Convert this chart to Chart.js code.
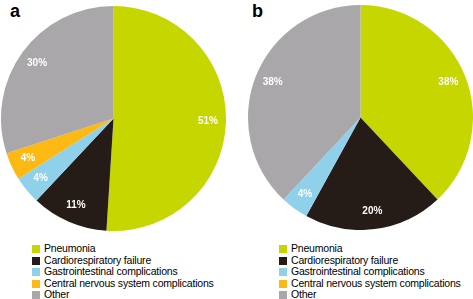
<!DOCTYPE html>
<html>
<head>
<meta charset="utf-8">
<script src="https://cdn.jsdelivr.net/npm/chart.js@4/dist/chart.umd.min.js"></script>
<style>
  body { margin: 0; background: #fff; width: 473px; height: 299px; position: relative; overflow: hidden;
         font-family: "Liberation Sans", Arial, sans-serif; }
  .panel-letter { position: absolute; font-weight: bold; font-size: 18px; color: #000; line-height: 1; }
  .pie { position: absolute; width: 225px; height: 225px; }
  .legend { position: absolute; font-size: 10.5px; color: #000; line-height: 11.6px; letter-spacing: -0.2px; }
  .legend div { position: relative; padding-left: 12px; white-space: nowrap; }
  .legend span { position: absolute; left: 0; top: 2px; width: 8px; height: 8px; }
</style>
</head>
<body>
<div class="panel-letter" style="left:10px; top:2px;">a</div>
<div class="panel-letter" style="left:252px; top:2px;">b</div>
<div class="pie" style="left:1px; top:6px;"><canvas id="pieA"></canvas></div>
<div class="pie" style="left:248px; top:5px;"><canvas id="pieB"></canvas></div>
<div class="legend" id="legendA" style="left:32px; top:243px;"></div>
<div class="legend" id="legendB" style="left:279px; top:243px;"></div>
<script>
// categories and values (percent of deaths)
const categories = ['Pneumonia', 'Cardiorespiratory failure', 'Gastrointestinal complications',
                    'Central nervous system complications', 'Other'];
const valuesA = [51, 11, 4, 4, 30];
const valuesB = [38, 20, 4, 0, 38];
const colors = ['#c6d600', '#261c17', '#8fd0ea', '#fdb913', '#a9a7a9'];

// draws "NN%" in white inside each slice
const sliceLabels = {
    id: 'sliceLabels',
    afterDatasetsDraw(chart) {
        const ctx = chart.ctx;
        const meta = chart.getDatasetMeta(0);
        const data = chart.data.datasets[0].data;
        ctx.save();
        ctx.fillStyle = '#fff';
        ctx.font = 'bold 10px "Liberation Sans", Arial, sans-serif';
        ctx.textAlign = 'center';
        ctx.textBaseline = 'middle';
        meta.data.forEach((arc, i) => {
            if (!data[i]) return;
            const mid = (arc.startAngle + arc.endAngle) / 2;
            const r = arc.outerRadius * 0.84;
            ctx.fillText(data[i] + '%', arc.x + Math.cos(mid) * r, arc.y + Math.sin(mid) * r);
        });
        ctx.restore();
    }
};

function makePie(id, values) {
    return new Chart(document.getElementById(id), {
        type: 'pie',
        data: {
            labels: categories,
            datasets: [{
                data: values,
                backgroundColor: colors,
                borderWidth: 0
            }]
        },
        options: {
            responsive: true,
            maintainAspectRatio: false,
            animation: false,
            layout: { padding: 0 },
            plugins: {
                legend: { display: false },
                tooltip: { enabled: false }
            }
        },
        plugins: [sliceLabels]
    });
}

function makeLegend(id) {
    const el = document.getElementById(id);
    categories.forEach((name, i) => {
        const row = document.createElement('div');
        row.innerHTML = '<span style="background:' + colors[i] + '"></span>' + name;
        el.appendChild(row);
    });
}

makePie('pieA', valuesA);
makePie('pieB', valuesB);
makeLegend('legendA');
makeLegend('legendB');
</script>
</body>
</html>
